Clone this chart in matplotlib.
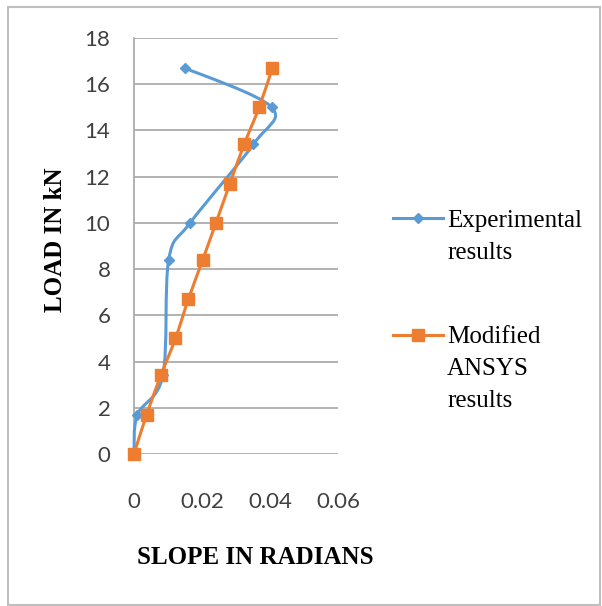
import matplotlib
matplotlib.use("Agg")
import matplotlib.pyplot as plt
from matplotlib.path import Path
from matplotlib.patches import PathPatch, Rectangle
from matplotlib.lines import Line2D

# data
load_exp = [0, 1.7, 3.4, 8.4, 10.0, 13.4, 15.0, 16.7]
slope_exp = [0, 0.001, 0.0085, 0.0102, 0.0165, 0.0351, 0.0405, 0.015]

load_ansys = [0, 1.7, 3.4, 5.0, 6.7, 8.4, 10.0, 11.7, 13.4, 15.0, 16.7]
slope_ansys = [0, 0.0037, 0.0079, 0.0122, 0.016, 0.0202, 0.0241, 0.0282, 0.0324, 0.0368, 0.0407]

blue = '#5B9BD5'
orange = '#ED7D31'
tick_font = 'Lato'
serif = 'Liberation Serif'


def smooth_path(xs, ys):
    # excel style smoothed line (bezier through the points)
    pts = list(zip(xs, ys))
    verts = [pts[0]]
    codes = [Path.MOVETO]
    n = len(pts)
    for i in range(n - 1):
        p0 = pts[i - 1] if i > 0 else pts[i]
        p1 = pts[i]
        p2 = pts[i + 1]
        p3 = pts[i + 2] if i + 2 < n else pts[i + 1]
        c1 = (p1[0] + (p2[0] - p0[0]) / 6, p1[1] + (p2[1] - p0[1]) / 6)
        c2 = (p2[0] - (p3[0] - p1[0]) / 6, p2[1] - (p3[1] - p1[1]) / 6)
        verts += [c1, c2, p2]
        codes += [Path.CURVE4] * 3
    return Path(verts, codes)


fig = plt.figure(figsize=(6.02, 6.06), dpi=100)
ax = fig.add_axes([134 / 602, 1 - 454 / 606, 204 / 602, 416 / 606])

# blue series
ax.add_patch(PathPatch(smooth_path(slope_exp, load_exp), fill=False,
                       edgecolor=blue, lw=2.2, zorder=3, clip_on=False))
ax.plot(slope_exp, load_exp, ls='none', marker='D', ms=5, color=blue, zorder=3,
        clip_on=False)

# orange series
ax.add_patch(PathPatch(smooth_path(slope_ansys, load_ansys), fill=False,
                       edgecolor=orange, lw=2.2, zorder=4, clip_on=False))
ax.plot(slope_ansys, load_ansys, ls='none', marker='s', ms=8, color=orange, zorder=4,
        clip_on=False)

ax.set_xlim(0, 0.06)
ax.set_ylim(0, 18)
ax.set_xticks([0, 0.02, 0.04, 0.06])
ax.set_xticklabels(['0', '0.02', '0.04', '0.06'])
ax.set_yticks(range(0, 19, 2))
ax.set_yticklabels([str(v) for v in range(0, 19, 2)])
ax.grid(axis='y', color='#A6A6A6', lw=1.2)
ax.set_axisbelow(True)
for s in ['top', 'right', 'bottom']:
    ax.spines[s].set_visible(False)
ax.spines['left'].set_color('#A6A6A6')
ax.spines['left'].set_linewidth(1.2)
ax.tick_params(length=0, labelsize=16, colors='#404040')
ax.tick_params(axis='y', pad=17)
ax.tick_params(axis='x', pad=27)
for lab in ax.get_xticklabels() + ax.get_yticklabels():
    lab.set_fontfamily(tick_font)

# axis titles
fig.text(255 / 602, 1 - 558 / 606, 'SLOPE IN RADIANS', ha='center', va='center',
         fontsize=18, fontweight='bold', family=serif)
fig.text(55 / 602, 1 - 240 / 606, 'LOAD IN kN', ha='center', va='center',
         rotation=90, fontsize=18, fontweight='bold', family=serif)

# legend
fig.add_artist(Line2D([393 / 602, 443 / 602], [1 - 218 / 606] * 2, color=blue, lw=2.2))
fig.add_artist(Line2D([418 / 602], [1 - 218 / 606], marker='D', ms=5, color=blue))
fig.text(447 / 602, 1 - 210 / 606, 'Experimental\nresults', ha='left', va='top',
         fontsize=18, family=serif, linespacing=1.6)
fig.add_artist(Line2D([393 / 602, 443 / 602], [1 - 335 / 606] * 2, color=orange, lw=2.2))
fig.add_artist(Line2D([418 / 602], [1 - 335 / 606], marker='s', ms=8, color=orange))
fig.text(447 / 602, 1 - 326 / 606, 'Modified\nANSYS\nresults', ha='left', va='top',
         fontsize=18, family=serif, linespacing=1.6)

# outer frame
fig.add_artist(Rectangle((8 / 602, 1 / 606), 592 / 602, 598 / 606, fill=False,
                         edgecolor='#BFBFBF', lw=1.5, transform=fig.transFigure))

fig.savefig('out.png', dpi=100)
